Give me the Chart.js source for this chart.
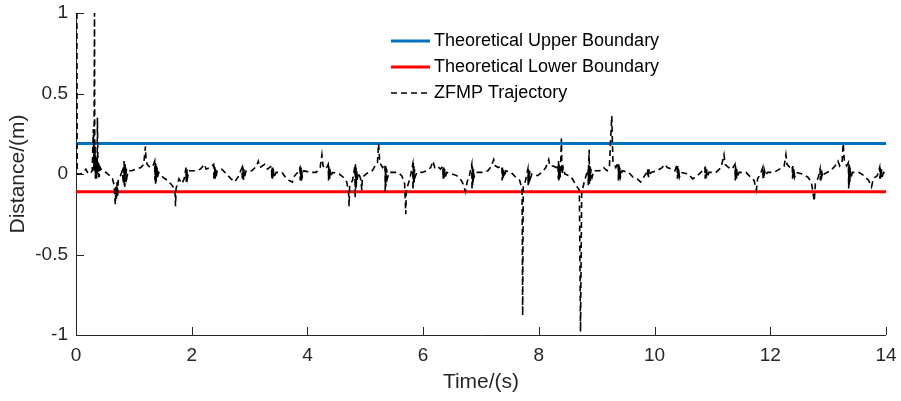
<!DOCTYPE html>
<html>
<head>
<meta charset="utf-8">
<script src="https://cdn.jsdelivr.net/npm/chart.js@4"></script>
<style>
  body { margin: 0; background: #fff; }
</style>
</head>
<body>
<canvas id="distChart" width="901" height="401"></canvas>
<script>
// boundaries (m)
var upperBound = 0.19;
var lowerBound = -0.11;
var timeRange = [0, 14];

// ZFMP trajectory [time (s), distance (m)]
var zfmpPoints = [
    [0.015, 1.00], [0.02, 0.00], [0.08, 0.00], [0.13, 0.01], [0.17, 0.03], [0.20, 0.01], [0.24, 0.00], [0.28, 0.02],
    [0.30, 0.28], [0.31, 0.02], [0.32, 1.00], [0.325, 0.05], [0.33, 0.18], [0.335, -0.03], [0.34, 0.12], [0.345, -0.02],
    [0.35, 0.09], [0.355, -0.03], [0.36, 0.06], [0.365, 0.00], [0.37, 0.35], [0.38, 0.02], [0.385, 0.08], [0.39, -0.02],
    [0.395, 0.07], [0.40, -0.02], [0.42, 0.04], [0.45, 0.02],
    [0.52, 0.01], [0.58, -0.01], [0.63, -0.03], [0.66, -0.07], [0.68, -0.19], [0.69, -0.08], [0.70, -0.16], [0.71, -0.05],
    [0.72, -0.14], [0.73, -0.04], [0.76, -0.02], [0.80, 0.02],
    [0.82, -0.06], [0.83, 0.08], [0.835, -0.07], [0.84, 0.07], [0.845, -0.08], [0.85, 0.06], [0.855, -0.05], [0.86, 0.05],
    [0.865, -0.04], [0.87, 0.03], [0.88, -0.02], [0.90, 0.02],
    [0.96, 0.02], [1.04, 0.03], [1.12, 0.04], [1.17, 0.06], [1.20, 0.17], [1.21, 0.09], [1.23, 0.06], [1.28, 0.04], [1.33, 0.05],
    [1.36, 0.08], [1.365, -0.04], [1.37, 0.07], [1.375, -0.06], [1.38, 0.06], [1.385, -0.05], [1.39, 0.05], [1.395, -0.03],
    [1.40, 0.04], [1.41, -0.02], [1.43, 0.01],
    [1.50, -0.02], [1.58, -0.04], [1.66, -0.07], [1.71, -0.10], [1.72, -0.20], [1.73, -0.09], [1.78, -0.03], [1.83, -0.06], [1.87, -0.03],
    [1.90, 0.04], [1.905, -0.05], [1.91, 0.03], [1.915, -0.04], [1.92, 0.03], [1.93, -0.02], [1.95, 0.02],
    [2.05, 0.02], [2.15, 0.03], [2.22, 0.06], [2.25, 0.03], [2.32, 0.04],
    [2.38, 0.06], [2.385, -0.04], [2.39, 0.05], [2.395, -0.03], [2.40, 0.05], [2.405, -0.03], [2.41, 0.03], [2.42, -0.02], [2.44, 0.02],
    [2.52, 0.03], [2.60, 0.00], [2.68, -0.03], [2.74, -0.05], [2.80, -0.02],
    [2.87, 0.04], [2.875, -0.04], [2.88, 0.05], [2.885, -0.03], [2.89, 0.04], [2.895, -0.04], [2.90, 0.03], [2.91, -0.02], [2.94, 0.02],
    [3.04, 0.02], [3.12, 0.05], [3.15, 0.08], [3.18, 0.04], [3.26, 0.06], [3.31, 0.03],
    [3.38, 0.05], [3.385, -0.03], [3.39, 0.04], [3.395, -0.03], [3.40, 0.04], [3.405, -0.02], [3.41, 0.03], [3.42, -0.02], [3.46, 0.01],
    [3.56, 0.01], [3.62, -0.02], [3.68, -0.04], [3.74, -0.05], [3.76, -0.02], [3.83, 0.01],
    [3.87, 0.04], [3.875, -0.04], [3.88, 0.05], [3.885, -0.03], [3.89, 0.04], [3.895, -0.04], [3.90, 0.03], [3.91, -0.02], [3.94, 0.02],
    [4.05, 0.01], [4.15, 0.01], [4.22, 0.04], [4.25, 0.12], [4.27, 0.05], [4.32, 0.03],
    [4.36, 0.06], [4.365, -0.04], [4.37, 0.05], [4.375, -0.03], [4.38, 0.04], [4.385, -0.03], [4.39, 0.03], [4.40, -0.02], [4.43, 0.01],
    [4.55, 0.00], [4.62, -0.02], [4.68, -0.05], [4.71, -0.11], [4.72, -0.20], [4.73, -0.07], [4.78, -0.04],
    [4.82, 0.05], [4.825, -0.15], [4.83, 0.06], [4.835, -0.10], [4.84, 0.04], [4.845, -0.08], [4.85, 0.03], [4.86, -0.04],
    [4.88, 0.01], [4.92, -0.03], [4.94, -0.10], [4.95, -0.02],
    [5.05, 0.01], [5.12, 0.02], [5.17, 0.05], [5.21, 0.07], [5.23, 0.19], [5.25, 0.07], [5.30, 0.04],
    [5.34, 0.06], [5.345, -0.11], [5.35, 0.05], [5.355, -0.08], [5.36, 0.04], [5.365, -0.06], [5.37, 0.03], [5.38, -0.03], [5.41, 0.01],
    [5.48, 0.01], [5.56, 0.01], [5.63, -0.01], [5.68, -0.06], [5.70, -0.25], [5.71, -0.10], [5.77, -0.03],
    [5.82, 0.06], [5.825, -0.10], [5.83, 0.07], [5.835, -0.06], [5.84, 0.05], [5.845, -0.05], [5.85, 0.03], [5.86, -0.02], [5.89, 0.01],
    [5.98, 0.01], [6.06, 0.02], [6.13, 0.04], [6.17, 0.08], [6.20, 0.04], [6.24, 0.05], [6.30, 0.03],
    [6.34, 0.05], [6.345, -0.03], [6.35, 0.04], [6.355, -0.03], [6.36, 0.04], [6.365, -0.02], [6.37, 0.03], [6.38, -0.02], [6.41, 0.01],
    [6.50, 0.00], [6.58, -0.01], [6.66, -0.04], [6.70, -0.07], [6.73, -0.11], [6.76, -0.05], [6.80, -0.01],
    [6.84, 0.06], [6.845, -0.10], [6.85, 0.05], [6.855, -0.07], [6.86, 0.04], [6.865, -0.05], [6.87, 0.03], [6.88, -0.02], [6.91, 0.01],
    [7.02, 0.01], [7.12, 0.02], [7.18, 0.05], [7.22, 0.09], [7.25, 0.05], [7.30, 0.04],
    [7.36, 0.05], [7.365, -0.04], [7.37, 0.04], [7.375, -0.03], [7.38, 0.04], [7.385, -0.03], [7.39, 0.03], [7.40, -0.02], [7.43, 0.02],
    [7.52, 0.01], [7.60, -0.02], [7.67, -0.04], [7.71, -0.10], [7.72, -0.88], [7.73, -0.08], [7.77, -0.04],
    [7.81, 0.03], [7.815, -0.07], [7.82, 0.04], [7.825, -0.06], [7.83, 0.03], [7.835, -0.05], [7.84, 0.02], [7.85, -0.03], [7.88, 0.00],
    [7.98, -0.01], [8.05, 0.01], [8.12, 0.04], [8.17, 0.09], [8.19, 0.05], [8.25, 0.05], [8.30, 0.04],
    [8.33, 0.06], [8.335, -0.03], [8.34, 0.08], [8.345, -0.04], [8.35, 0.06], [8.355, -0.03], [8.36, 0.05], [8.37, -0.02],
    [8.39, 0.22], [8.40, 0.00], [8.42, 0.04], [8.45, 0.00],
    [8.52, -0.01], [8.58, -0.03], [8.64, -0.07], [8.70, -0.10], [8.72, -0.98], [8.74, -0.12], [8.79, -0.04],
    [8.85, 0.03], [8.855, -0.07], [8.86, 0.05], [8.87, 0.15], [8.875, -0.06], [8.88, 0.05], [8.885, -0.05], [8.89, 0.04],
    [8.895, -0.03], [8.90, 0.03], [8.92, -0.02], [8.95, 0.02],
    [9.05, 0.02], [9.12, 0.04], [9.18, 0.02], [9.22, 0.05], [9.26, 0.36], [9.28, 0.08], [9.33, 0.04],
    [9.37, 0.07], [9.375, -0.04], [9.38, 0.06], [9.385, -0.04], [9.39, 0.05], [9.395, -0.03], [9.40, 0.04], [9.41, -0.02], [9.44, 0.02],
    [9.55, 0.01], [9.63, -0.02], [9.70, -0.03], [9.76, -0.05], [9.79, -0.03], [9.85, 0.00],
    [9.88, 0.03], [9.885, -0.02], [9.89, 0.03], [9.895, -0.02], [9.90, 0.03], [9.91, -0.01], [9.94, 0.01],
    [10.04, 0.02], [10.13, 0.04], [10.18, 0.06], [10.22, 0.04], [10.30, 0.03], [10.35, 0.02],
    [10.39, 0.06], [10.395, -0.03], [10.40, 0.05], [10.405, -0.03], [10.41, 0.04], [10.415, -0.02], [10.42, 0.03], [10.43, -0.02], [10.46, 0.01],
    [10.58, 0.00], [10.66, -0.03], [10.74, -0.01], [10.80, 0.01],
    [10.87, 0.04], [10.875, -0.03], [10.88, 0.04], [10.885, -0.03], [10.89, 0.03], [10.895, -0.02], [10.90, 0.03], [10.91, -0.02], [10.94, 0.01],
    [11.06, 0.01], [11.15, 0.04], [11.20, 0.12], [11.22, 0.06], [11.28, 0.04], [11.34, 0.03],
    [11.39, 0.06], [11.395, -0.04], [11.40, 0.05], [11.405, -0.03], [11.41, 0.04], [11.415, -0.03], [11.42, 0.03], [11.43, -0.02], [11.46, 0.01],
    [11.58, 0.01], [11.66, -0.02], [11.72, -0.04], [11.76, -0.10], [11.78, -0.03], [11.83, 0.00],
    [11.87, 0.04], [11.875, -0.03], [11.88, 0.04], [11.885, -0.03], [11.89, 0.03], [11.895, -0.02], [11.90, 0.02], [11.92, -0.01], [11.95, 0.01],
    [12.06, 0.01], [12.16, 0.03], [12.24, 0.05], [12.27, 0.12], [12.29, 0.06], [12.34, 0.04],
    [12.38, 0.05], [12.385, -0.03], [12.39, 0.05], [12.395, -0.03], [12.40, 0.04], [12.405, -0.02], [12.41, 0.03], [12.42, -0.02], [12.45, 0.01],
    [12.56, 0.00], [12.65, -0.02], [12.71, -0.05], [12.76, -0.17], [12.78, -0.06], [12.83, -0.02],
    [12.86, 0.03], [12.865, -0.04], [12.87, 0.03], [12.875, -0.04], [12.88, 0.02], [12.885, -0.03], [12.89, 0.02], [12.90, -0.02], [12.93, 0.00],
    [13.04, 0.02], [13.12, 0.05], [13.17, 0.08], [13.20, 0.05], [13.24, 0.07], [13.26, 0.19], [13.28, 0.08], [13.32, 0.05],
    [13.35, 0.07], [13.355, -0.09], [13.36, 0.06], [13.365, -0.07], [13.37, 0.05], [13.375, -0.05], [13.38, 0.04], [13.39, -0.03], [13.42, 0.01],
    [13.53, 0.01], [13.62, -0.01], [13.70, -0.04], [13.75, -0.08], [13.78, -0.03], [13.85, -0.01],
    [13.89, 0.04], [13.895, -0.03], [13.90, 0.04], [13.905, -0.03], [13.91, 0.03], [13.915, -0.02], [13.92, 0.03], [13.93, -0.02], [13.96, 0.01],
    [14.00, 0.00]
];

var yTicks = [-1, -0.5, 0, 0.5, 1];
var xTicks = [0, 2, 4, 6, 8, 10, 12, 14];

var FONT = "'Liberation Sans', Arial, Helvetica, sans-serif";
var AXIS_COLOR = "#262626";

// matlab look: left/bottom axis only, ticks inside, legend box-less inside the plot
var matlabAxes = {
    id: "matlabAxes",
    beforeDatasetsDraw: function (chart) {
        var ctx = chart.ctx;
        var a = chart.chartArea;
        var xs = chart.scales.x, ys = chart.scales.y;
        ctx.save();
        ctx.strokeStyle = AXIS_COLOR;
        ctx.lineWidth = 1;
        ctx.beginPath();
        ctx.moveTo(a.left + 0.5, a.top);
        ctx.lineTo(a.left + 0.5, a.bottom + 0.5);
        ctx.lineTo(a.right, a.bottom + 0.5);
        xTicks.forEach(function (t) {
            var px = Math.round(xs.getPixelForValue(t)) + 0.5;
            ctx.moveTo(px, a.bottom);
            ctx.lineTo(px, a.bottom - 8);
        });
        yTicks.forEach(function (t) {
            var py = Math.round(ys.getPixelForValue(t)) + 0.5;
            ctx.moveTo(a.left, py);
            ctx.lineTo(a.left + 8, py);
        });
        ctx.stroke();
        ctx.restore();
    },
    afterDatasetsDraw: function (chart) {
        var ctx = chart.ctx;
        var x0 = 391, x1 = 430, rowY = [41, 67, 93];
        ctx.save();
        ctx.font = "18px " + FONT;
        ctx.textBaseline = "middle";
        ctx.fillStyle = "#000";
        chart.data.datasets.forEach(function (ds, i) {
            ctx.save();
            ctx.strokeStyle = ds.borderColor;
            ctx.lineWidth = ds.borderWidth;
            ctx.setLineDash(ds.borderDash || []);
            ctx.beginPath();
            ctx.moveTo(x0, rowY[i]);
            ctx.lineTo(x1, rowY[i]);
            ctx.stroke();
            ctx.restore();
            ctx.fillText(ds.label, x1 + 4, rowY[i]);
        });
        ctx.restore();
    },
};

var chart = new Chart(document.getElementById("distChart").getContext("2d"), {
    type: "line",
    data: {
        datasets: [
            {
                label: "Theoretical Upper Boundary",
                data: timeRange.map(function (t) { return { x: t, y: upperBound }; }),
                borderColor: "#0072BD",
                borderWidth: 3,
                pointRadius: 0,
                order: 2,
            },
            {
                label: "Theoretical Lower Boundary",
                data: timeRange.map(function (t) { return { x: t, y: lowerBound }; }),
                borderColor: "#FF0000",
                borderWidth: 3,
                pointRadius: 0,
                order: 1,
            },
            {
                label: "ZFMP Trajectory",
                data: zfmpPoints.map(function (p) { return { x: p[0], y: p[1] }; }),
                borderColor: "#000000",
                borderWidth: 1.6,
                borderDash: [6, 4],
                pointRadius: 0,
                tension: 0,
                order: 0,
            },
        ],
    },
    options: {
        responsive: false,
        animation: false,
        layout: { padding: { top: 13, right: 15, left: 0, bottom: 0 } },
        plugins: {
            legend: { display: false },
            tooltip: { enabled: false },
        },
        scales: {
            x: {
                type: "linear",
                min: 0,
                max: 14,
                grid: { display: false, drawTicks: false },
                border: { display: false },
                afterBuildTicks: function (s) {
                    s.ticks = xTicks.map(function (v) { return { value: v }; });
                },
                afterFit: function (s) {
                    s.height = 66;
                    s.paddingLeft = 0;
                    s.paddingRight = 0;
                },
                ticks: {
                    padding: 9,
                    maxRotation: 0,
                    color: AXIS_COLOR,
                    font: { family: FONT, size: 19 },
                    callback: function (v) { return String(v); },
                },
                title: {
                    display: true,
                    text: "Time/(s)",
                    color: AXIS_COLOR,
                    padding: { top: 0, bottom: 6 },
                    font: { family: FONT, size: 21 },
                },
            },
            y: {
                min: -1,
                max: 1,
                grid: { display: false, drawTicks: false },
                border: { display: false },
                afterBuildTicks: function (s) {
                    s.ticks = yTicks.map(function (v) { return { value: v }; });
                },
                afterFit: function (s) {
                    s.width = 76;
                    s.paddingTop = 0;
                    s.paddingBottom = 0;
                },
                ticks: {
                    padding: 8,
                    color: AXIS_COLOR,
                    font: { family: FONT, size: 19 },
                    callback: function (v) { return String(v); },
                },
                title: {
                    display: true,
                    text: "Distance/(m)",
                    color: AXIS_COLOR,
                    padding: { top: 6, bottom: 0 },
                    font: { family: FONT, size: 21 },
                },
            },
        },
    },
    plugins: [matlabAxes],
});
</script>
</body>
</html>
